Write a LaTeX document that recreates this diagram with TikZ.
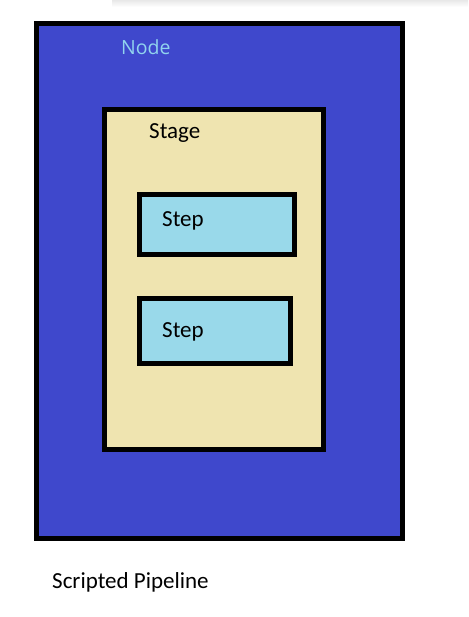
\documentclass[tikz,border=0pt]{standalone}
\usepackage{fontspec}
\setmainfont{Carlito}
\newfontfamily\nodefont{Open Sans}
\definecolor{nodeblue}{RGB}{63,72,204}
\definecolor{stagetan}{RGB}{239,228,176}
\definecolor{steplight}{RGB}{153,217,234}
\definecolor{nodelabel}{RGB}{145,212,238}
\tikzset{
  box/.style={draw=black, line width=5pt, inner sep=0pt, outer sep=0pt, rectangle},
  nodebox/.style={box, fill=nodeblue},
  stagebox/.style={box, fill=stagetan},
  stepbox/.style={box, fill=steplight},
  lbl/.style={anchor=base west, inner sep=0pt, font=\fontsize{23}{27}\selectfont, text=black},
  nodelbl/.style={anchor=base west, inner sep=0pt, font=\nodefont\fontsize{19.5}{23}\selectfont, text=nodelabel}
}
\begin{document}
\begin{tikzpicture}[x=1pt, y=-1pt]
\useasboundingbox (0,0) rectangle (468,617);
\fill[white] (0,0) rectangle (468,617);
\shade[top color=black!9, bottom color=white] (112,0) rectangle (468,7);
\node[nodebox, minimum width=366pt, minimum height=515pt] (node) at (219.5,281) {};
\node[stagebox, minimum width=219pt, minimum height=340pt] (stage) at (214,279.5) {};
\node[stepbox, minimum width=155pt, minimum height=60pt] (step1) at (217,224.5) {};
\node[stepbox, minimum width=151pt, minimum height=65pt] (step2) at (215,331) {};
\node[nodelbl] (nodetext) at (121,55) {Node};
\node[lbl] (stagetext) at (149,139) {Stage};
\node[lbl] (step1text) at (162,227) {Step};
\node[lbl] (step2text) at (162,337) {Step};
\node[lbl] (caption) at (52,588) {Scripted Pipeline};
\end{tikzpicture}
\end{document}
